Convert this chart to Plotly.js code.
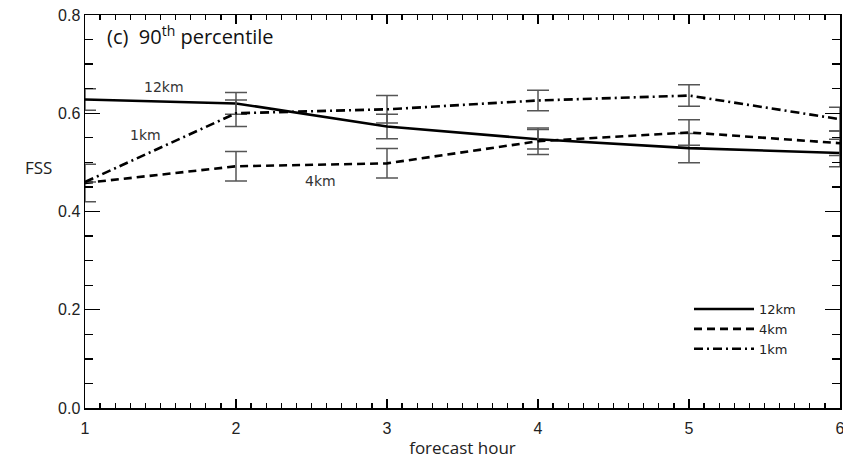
<!DOCTYPE html>
<html><head><meta charset="utf-8">
<script src="https://cdn.plot.ly/plotly-3.0.1.min.js"></script>
<style>html,body{margin:0;padding:0;background:#fff;}#chart{width:843px;height:467px;}</style>
</head><body><div id="chart"></div>
<script>
const hours = [1, 2, 3, 4, 5, 6];
const fss12km = [0.628, 0.620, 0.573, 0.547, 0.529, 0.519];
const err12km = [0.022, 0.022, 0.025, 0.020, 0.030, 0.028];
const fss4km = [0.458, 0.492, 0.498, 0.543, 0.561, 0.539];
const err4km = [0.038, 0.030, 0.030, 0.027, 0.026, 0.025];
const fss1km = [0.460, 0.600, 0.608, 0.626, 0.636, 0.588];
const err1km = [0.000, 0.027, 0.028, 0.021, 0.022, 0.024];
const seriesNames = ['12km', '4km', '1km'];
const yTickVals = [0.0, 0.2, 0.4, 0.6, 0.8];
const yTickText = ['0.0', '0.2', '0.4', '0.6', '0.8'];
const xTickVals = [1, 2, 3, 4, 5, 6];

const errStyle = (arr) => ({type: 'data', array: arr, visible: true, color: '#555', thickness: 1.5, width: 11});
const mk = (y, e, name, dash) => ({
  x: hours, y: y, name: name, type: 'scatter', mode: 'lines', cliponaxis: false,
  line: {color: '#000', width: 2.6, dash: dash},
  error_y: errStyle(e)
});
const data = [
  mk(fss12km, err12km, seriesNames[0], 'solid'),
  mk(fss4km, err4km, seriesNames[1], '8px,5px'),
  mk(fss1km, err1km, seriesNames[2], '9px,4px,2px,4px')
];
const tickFont = {family: 'Liberation Sans, Arial, sans-serif', size: 16, color: '#222'};
const layout = {
  width: 843, height: 467,
  margin: {l: 85, r: 3, t: 15, b: 59},
  paper_bgcolor: '#fff', plot_bgcolor: '#fff',
  showlegend: true,
  legend: {x: 0.8, y: 0.29, xanchor: 'left', yanchor: 'top', bgcolor: 'rgba(0,0,0,0)',
           font: {family: 'DejaVu Sans, sans-serif', size: 13, color: '#222'}, itemwidth: 60, tracegroupgap: 0},
  xaxis: {range: [1, 6], tickvals: xTickVals, ticks: 'inside', ticklen: 9, tickwidth: 1.3, tickcolor: '#000',
          showline: true, linecolor: '#000', linewidth: 1.5, mirror: 'ticks', showgrid: false, zeroline: false,
          tickfont: tickFont, ticklabeloverflow: 'allow', ticklabelstandoff: 5,
          minor: {dtick: 0.1, ticks: 'inside', ticklen: 5, tickwidth: 1.3, tickcolor: '#000', showgrid: false},
          title: {text: 'forecast hour', font: {family: 'Open Sans, sans-serif', size: 17, color: '#222'}, standoff: 6}},
  yaxis: {range: [0, 0.8], tickvals: yTickVals, ticktext: yTickText, ticks: 'inside', ticklen: 15, tickwidth: 1.3, tickcolor: '#000',
          showline: true, linecolor: '#000', linewidth: 1.5, mirror: 'ticks', showgrid: false, zeroline: false,
          tickfont: tickFont, ticklabeloverflow: 'allow',
          minor: {dtick: 0.05, ticks: 'inside', ticklen: 8, tickwidth: 1.3, tickcolor: '#000', showgrid: false}},
  annotations: [
    {xref: 'paper', yref: 'paper', x: 0.026, y: 0.99, xanchor: 'left', yanchor: 'top', showarrow: false,
     text: '(c)  90<sup>th</sup> percentile', font: {family: 'Open Sans, sans-serif', size: 20, color: '#111'}},
    {xref: 'paper', yref: 'y', x: -0.062, y: 0.49, xanchor: 'center', yanchor: 'middle', showarrow: false,
     text: 'FSS', font: {family: 'Open Sans, sans-serif', size: 17, color: '#222'}},
    {xref: 'x', yref: 'y', x: 1.52, y: 0.653, showarrow: false, text: seriesNames[0],
     font: {family: 'DejaVu Sans, sans-serif', size: 14, color: '#333'}},
    {xref: 'x', yref: 'y', x: 1.4, y: 0.555, showarrow: false, text: seriesNames[2],
     font: {family: 'DejaVu Sans, sans-serif', size: 14, color: '#333'}},
    {xref: 'x', yref: 'y', x: 2.56, y: 0.462, showarrow: false, text: seriesNames[1],
     font: {family: 'DejaVu Sans, sans-serif', size: 14, color: '#333'}}
  ]
};
Plotly.newPlot('chart', data, layout, {displayModeBar: false, staticPlot: true});
</script></body></html>
